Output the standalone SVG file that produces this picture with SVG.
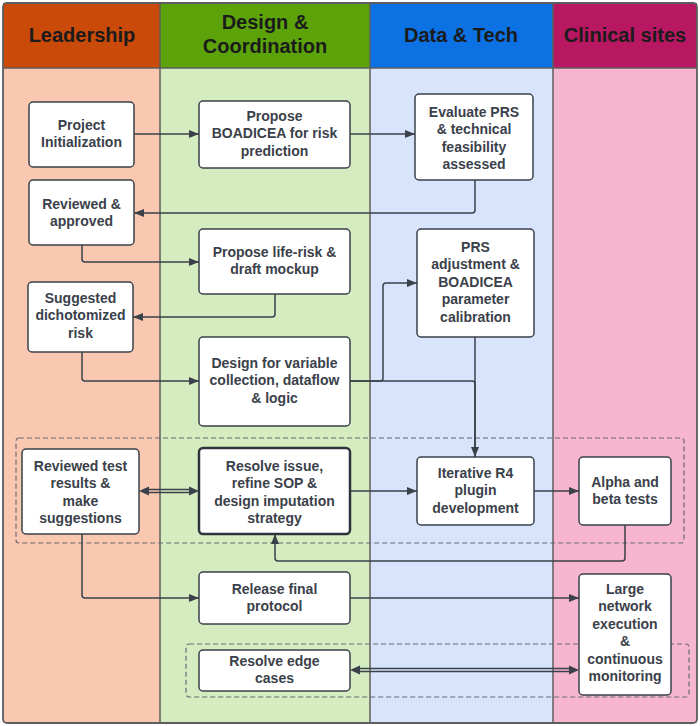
<svg xmlns="http://www.w3.org/2000/svg" width="700" height="726" viewBox="0 0 700 726">
<defs>
<style>
.hdr{font-family:"Liberation Sans",Arial,sans-serif;font-weight:bold;font-size:20px;fill:#1b1b1b;text-anchor:middle}
.nt{font-family:"Liberation Sans",Arial,sans-serif;font-weight:bold;font-size:14px;fill:#3a414a;text-anchor:middle}
.box{fill:#ffffff;stroke:#3a414a;stroke-width:1.5}
.box2{fill:#ffffff;stroke:#2e343b;stroke-width:2.5}
.lane{stroke:#5e5e5e;stroke-width:1.5}
.con{fill:none;stroke:#3a414a;stroke-width:1.5;stroke-linejoin:round}
.ah{fill:#3a414a}
.grp{fill:none;stroke:#6b6b73;stroke-width:1.2;stroke-dasharray:5 3}
</style>
<marker id="arr" markerUnits="userSpaceOnUse" markerWidth="11" markerHeight="9" refX="10" refY="4.5" orient="auto">
<path d="M0,0.5 L10,4.5 L0,8.5 z" fill="#3a414a"/>
</marker>
</defs>

<!-- lanes -->
<g id="lanes">
<rect x="3" y="68" width="157" height="655" fill="#fac7b1"/>
<rect x="160" y="68" width="210" height="655" fill="#d5ebc0"/>
<rect x="370" y="68" width="183" height="655" fill="#d8e3fc"/>
<rect x="553" y="68" width="144" height="655" fill="#f6b6d0"/>
<rect x="3" y="3" width="157" height="65" fill="#c94a09"/>
<rect x="160" y="3" width="210" height="65" fill="#5ca30a"/>
<rect x="370" y="3" width="183" height="65" fill="#0c72e3"/>
<rect x="553" y="3" width="144" height="65" fill="#b81862"/>
<line class="lane" x1="3" y1="68" x2="697" y2="68"/>
<line class="lane" x1="160" y1="3" x2="160" y2="723"/>
<line class="lane" x1="370" y1="3" x2="370" y2="723"/>
<line class="lane" x1="553" y1="3" x2="553" y2="723"/>
<rect x="3" y="3" width="694" height="720" rx="4" fill="none" stroke="#5e5e5e" stroke-width="1.8"/>
<text class="hdr" x="82" y="42">Leadership</text>
<text class="hdr" x="265" y="29">Design &amp;</text>
<text class="hdr" x="265" y="53">Coordination</text>
<text class="hdr" x="461" y="42">Data &amp; Tech</text>
<text class="hdr" x="625" y="42">Clinical sites</text>
</g>

<!-- groups (dashed) -->
<rect class="grp" x="16" y="438" width="668" height="105" rx="3"/>
<rect class="grp" x="186" y="644" width="503" height="53" rx="3"/>

<!-- connectors -->
<g id="connectors">
<path class="con" d="M134,134 H199" marker-end="url(#arr)"/>
<path class="con" d="M350,134 H415" marker-end="url(#arr)"/>
<path class="con" d="M475,180 V210 Q475,213 472,213 H134" marker-end="url(#arr)"/>
<path class="con" d="M82,245 V259 Q82,262 85,262 H199" marker-end="url(#arr)"/>
<path class="con" d="M275,294 V314 Q275,317 272,317 H133" marker-end="url(#arr)"/>
<path class="con" d="M82,352 V378 Q82,381 85,381 H199" marker-end="url(#arr)"/>
<path class="con" d="M350,381 H380 Q383,381 383,378 V286 Q383,283 386,283 H417" marker-end="url(#arr)"/>
<path class="con" d="M350,381 H472 Q475,381 475,384 V457" marker-end="url(#arr)"/>
<path class="con" d="M475,337 V457"/>
<path class="con" d="M350,491 H417" marker-end="url(#arr)"/>
<path class="con" d="M534,491 H579" marker-end="url(#arr)"/>
<path class="con" d="M625,525 V558 Q625,561 622,561 H278 Q275,561 275,558 V534" marker-end="url(#arr)"/>
<path class="con" d="M82,534 V595 Q82,598 85,598 H199" marker-end="url(#arr)"/>
<path class="con" d="M350,598 H579" marker-end="url(#arr)"/>
<!-- double arrow Reviewed test <-> Resolve issue -->
<path class="con" d="M148,489.5 H190 M148,492.5 H190"/>
<polygon class="ah" points="139,491 149,486.5 149,495.5"/>
<polygon class="ah" points="199,491 189,486.5 189,495.5"/>
<!-- double arrow Resolve edge cases <-> Large network -->
<path class="con" d="M359,668.5 H570 M359,671.5 H570"/>
<polygon class="ah" points="350,670 360,665.5 360,674.5"/>
<polygon class="ah" points="579,670 569,665.5 569,674.5"/>
</g>

<!-- nodes -->
<g id="project-init">
<rect class="box" x="29" y="102" width="105" height="65" rx="4"/>
<text class="nt" x="81.5" y="130">Project</text>
<text class="nt" x="81.5" y="147.4">Initialization</text>
</g>
<g id="propose-boadicea">
<rect class="box" x="199" y="101" width="151" height="67" rx="4"/>
<text class="nt" x="274.5" y="121">Propose</text>
<text class="nt" x="274.5" y="138.4">BOADICEA for risk</text>
<text class="nt" x="274.5" y="155.8">prediction</text>
</g>
<g id="evaluate-prs">
<rect class="box" x="415" y="94" width="118" height="86" rx="4"/>
<text class="nt" x="474" y="117">Evaluate PRS</text>
<text class="nt" x="474" y="134.4">&amp; technical</text>
<text class="nt" x="474" y="151.8">feasibility</text>
<text class="nt" x="474" y="169.2">assessed</text>
</g>
<g id="reviewed-approved">
<rect class="box" x="29" y="180" width="105" height="65" rx="4"/>
<text class="nt" x="81.5" y="209">Reviewed &amp;</text>
<text class="nt" x="81.5" y="226.4">approved</text>
</g>
<g id="propose-life-risk">
<rect class="box" x="199" y="229" width="151" height="65" rx="4"/>
<text class="nt" x="274.5" y="257">Propose life-risk &amp;</text>
<text class="nt" x="274.5" y="274.4">draft mockup</text>
</g>
<g id="prs-adjustment">
<rect class="box" x="417" y="229" width="117" height="108" rx="4"/>
<text class="nt" x="475.5" y="252">PRS</text>
<text class="nt" x="475.5" y="269.4">adjustment &amp;</text>
<text class="nt" x="475.5" y="286.8">BOADICEA</text>
<text class="nt" x="475.5" y="304.2">parameter</text>
<text class="nt" x="475.5" y="321.6">calibration</text>
</g>
<g id="suggested-dichotomized">
<rect class="box" x="28" y="282" width="105" height="70" rx="4"/>
<text class="nt" x="80.5" y="303">Suggested</text>
<text class="nt" x="80.5" y="320.4">dichotomized</text>
<text class="nt" x="80.5" y="337.8">risk</text>
</g>
<g id="design-variable">
<rect class="box" x="199" y="337" width="151" height="89" rx="4"/>
<text class="nt" x="274.5" y="368">Design for variable</text>
<text class="nt" x="274.5" y="385.4">collection, dataflow</text>
<text class="nt" x="274.5" y="402.8">&amp; logic</text>
</g>
<g id="reviewed-test">
<rect class="box" x="22" y="449" width="117" height="85" rx="4"/>
<text class="nt" x="80.5" y="471">Reviewed test</text>
<text class="nt" x="80.5" y="488.4">results &amp;</text>
<text class="nt" x="80.5" y="505.8">make</text>
<text class="nt" x="80.5" y="523.2">suggestions</text>
</g>
<g id="resolve-issue">
<rect class="box2" x="199" y="448" width="151" height="86" rx="4"/>
<text class="nt" x="274.5" y="471">Resolve issue,</text>
<text class="nt" x="274.5" y="488.4">refine SOP &amp;</text>
<text class="nt" x="274.5" y="505.8">design imputation</text>
<text class="nt" x="274.5" y="523.2">strategy</text>
</g>
<g id="iterative-r4">
<rect class="box" x="417" y="457" width="117" height="68" rx="4"/>
<text class="nt" x="475.5" y="478">Iterative R4</text>
<text class="nt" x="475.5" y="495.4">plugin</text>
<text class="nt" x="475.5" y="512.8">development</text>
</g>
<g id="alpha-beta">
<rect class="box" x="579" y="457" width="92" height="68" rx="4"/>
<text class="nt" x="625" y="487">Alpha and</text>
<text class="nt" x="625" y="504.4">beta tests</text>
</g>
<g id="release-final">
<rect class="box" x="199" y="572" width="151" height="52" rx="4"/>
<text class="nt" x="274.5" y="594">Release final</text>
<text class="nt" x="274.5" y="611.4">protocol</text>
</g>
<g id="large-network">
<rect class="box" x="579" y="574" width="92" height="121" rx="4"/>
<text class="nt" x="625" y="594">Large</text>
<text class="nt" x="625" y="611.4">network</text>
<text class="nt" x="625" y="628.8">execution</text>
<text class="nt" x="625" y="646.2">&amp;</text>
<text class="nt" x="625" y="663.6">continuous</text>
<text class="nt" x="625" y="681">monitoring</text>
</g>
<g id="resolve-edge">
<rect class="box" x="199" y="650" width="151" height="41" rx="4"/>
<text class="nt" x="274.5" y="666">Resolve edge</text>
<text class="nt" x="274.5" y="683.4">cases</text>
</g>
</svg>
